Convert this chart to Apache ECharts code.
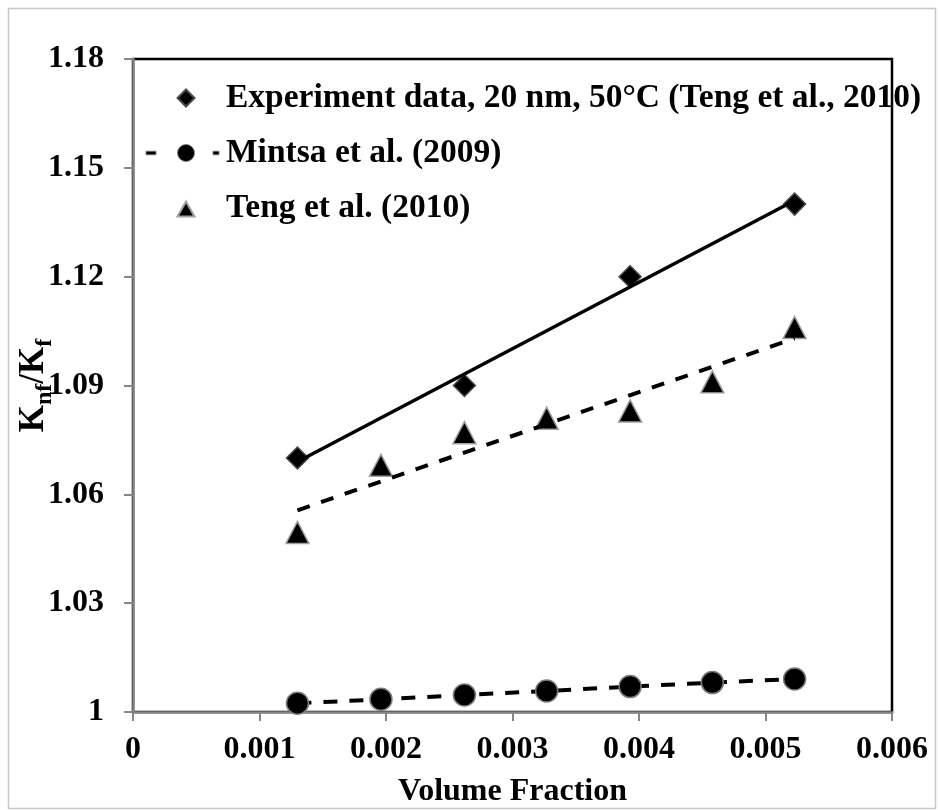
<!DOCTYPE html>
<html>
<head>
<meta charset="utf-8">
<script src="https://cdn.jsdelivr.net/npm/echarts@6/dist/echarts.min.js"></script>
<style>
  html, body { margin: 0; padding: 0; background: #ffffff; }
  #chart { width: 938px; height: 810px; }
</style>
</head>
<body>
<div id="chart"></div>
<script>
// Volume fractions of the model curves (Mintsa, Teng correlation)
const volumeFraction = [0.0013, 0.00196, 0.00262, 0.00327, 0.00393, 0.00458, 0.00523];
// Measured points, 20 nm, 50 °C
const expVolume = [0.0013, 0.00262, 0.00393, 0.00523];
const expRatio = [1.07, 1.09, 1.12, 1.14];
// Mintsa et al. (2009) correlation
const mintsaRatio = [1.0024, 1.0035, 1.0047, 1.0058, 1.0070, 1.0081, 1.0091];
// Teng et al. (2010) correlation
const tengRatio = [1.0495, 1.068, 1.077, 1.081, 1.083, 1.091, 1.106];
// Linear trend lines (end points)
const expTrendX = [0.0013, 0.00523];
const expTrendY = [1.069, 1.141];
const tengTrendX = [0.0013, 0.00523];
const tengTrendY = [1.0556, 1.1030];
// Axis ticks
const yTicks = [1, 1.03, 1.06, 1.09, 1.12, 1.15, 1.18];
const yTickLabels = ['1', '1.03', '1.06', '1.09', '1.12', '1.15', '1.18'];

const names = {
  exp: 'Experiment data, 20 nm, 50°C (Teng et al., 2010)',
  mintsa: 'Mintsa et al. (2009)',
  teng: 'Teng et al. (2010)'
};

const pairs = (xs, ys) => xs.map((x, i) => [x, ys[i]]);
const font = 'Liberation Serif';
const textBase = { fontFamily: font, fontWeight: 'bold', fontSize: 32, color: '#000' };

// Legend icons drawn in a 77 x 21 box (the two leading moves pin the box size)
const iconBox = 'M0,0 M77,21 ';
const legendIcons = {
  diamond: 'path://' + iconBox + 'M42,2 L50.5,10.5 L42,19 L33.5,10.5 Z',
  dashedCircle: 'path://' + iconBox +
    'M2,8.7 L12,8.7 L12,12.3 L2,12.3 Z ' +
    'M50.5,10.5 A8.5,8.5 0 1,1 33.5,10.5 A8.5,8.5 0 1,1 50.5,10.5 Z ' +
    'M69,8.7 L75,8.7 L75,12.3 L69,12.3 Z',
  triangle: 'path://' + iconBox + 'M42,4 L50.5,19 L33.5,19 Z'
};

const chart = echarts.init(document.getElementById('chart'), null, { renderer: 'canvas' });

chart.setOption({
  animation: false,
  backgroundColor: '#ffffff',
  graphic: [{
    type: 'rect',
    shape: { x: 8.5, y: 8.5, width: 927, height: 800 },
    style: { fill: 'none', stroke: '#c8c8c8', lineWidth: 1.5 },
    silent: true,
    z: -10
  }],
  grid: {
    left: 133, top: 59, right: 46, bottom: 98,
    outerBoundsMode: 'none',
    containLabel: false,
    show: true, borderColor: '#000', borderWidth: 2.5, backgroundColor: 'transparent'
  },
  legend: {
    orient: 'vertical',
    left: 143, top: 81,
    padding: 0,
    itemWidth: 77, itemHeight: 21, itemGap: 21,
    selectedMode: false,
    symbolKeepAspect: true,
    textStyle: Object.assign({}, textBase, { fontSize: 33.5 }),
    data: [
      { name: names.exp, icon: legendIcons.diamond },
      { name: names.mintsa, icon: legendIcons.dashedCircle, itemStyle: { borderWidth: 0.8 } },
      { name: names.teng, icon: legendIcons.triangle }
    ]
  },
  xAxis: {
    type: 'value', min: 0, max: 0.006, interval: 0.001,
    name: 'Volume Fraction', nameLocation: 'middle', nameGap: 64,
    nameMoveOverlap: false,
    nameTextStyle: Object.assign({}, textBase),
    axisLine: { lineStyle: { color: '#868686', width: 2.5 } },
    axisTick: { show: true, length: 9, lineStyle: { color: '#868686', width: 2 } },
    axisLabel: Object.assign({ margin: 22 }, textBase),
    splitLine: { show: false }
  },
  yAxis: {
    type: 'value', min: 1, max: 1.18,
    name: '{k|K}{s|nf}{k|/K}{s|f}',
    nameLocation: 'middle', nameRotate: 90, nameGap: 82,
    nameMoveOverlap: false,
    nameTextStyle: {
      rich: {
        k: Object.assign({}, textBase, { fontSize: 35, lineHeight: 35, verticalAlign: 'top' }),
        s: Object.assign({}, textBase, { fontSize: 24, lineHeight: 24, padding: [17, 0, 0, 0], verticalAlign: 'top' })
      }
    },
    axisLine: { show: true, lineStyle: { color: '#868686', width: 2.5 } },
    axisTick: { show: true, length: 9, customValues: yTicks, lineStyle: { color: '#868686', width: 2 } },
    axisLabel: Object.assign({
      margin: 29,
      customValues: yTicks,
      formatter: (v) => {
        const i = yTicks.findIndex(t => Math.abs(t - v) < 1e-9);
        return i >= 0 ? yTickLabels[i] : '';
      }
    }, textBase),
    splitLine: { show: false }
  },
  series: [
    {
      name: names.exp, type: 'scatter',
      data: pairs(expVolume, expRatio),
      symbol: 'diamond', symbolSize: 22,
      itemStyle: { color: '#000', opacity: 1, borderColor: '#4a4a4a', borderWidth: 1.5 },
      z: 3
    },
    {
      name: names.mintsa, type: 'line',
      data: pairs(volumeFraction, mintsaRatio),
      symbol: 'circle', symbolSize: 22, showAllSymbol: true,
      lineStyle: { color: '#000', width: 4, type: [14, 12] },
      itemStyle: { color: '#000', opacity: 1, borderColor: '#7a7a7a', borderWidth: 1.5 },
      z: 3
    },
    {
      name: names.teng, type: 'scatter',
      data: pairs(volumeFraction, tengRatio),
      symbol: 'triangle', symbolSize: [23, 22],
      itemStyle: { color: '#000', opacity: 1, borderColor: '#a0a0a0', borderWidth: 1.5 },
      z: 3
    },
    {
      name: 'exp-trend', type: 'line',
      data: pairs(expTrendX, expTrendY),
      symbol: 'none',
      lineStyle: { color: '#000', width: 3.5 },
      z: 4
    },
    {
      name: 'teng-trend', type: 'line',
      data: pairs(tengTrendX, tengTrendY),
      symbol: 'none',
      lineStyle: { color: '#000', width: 4, type: [13, 12] },
      z: 4
    }
  ]
});
</script>
</body>
</html>
